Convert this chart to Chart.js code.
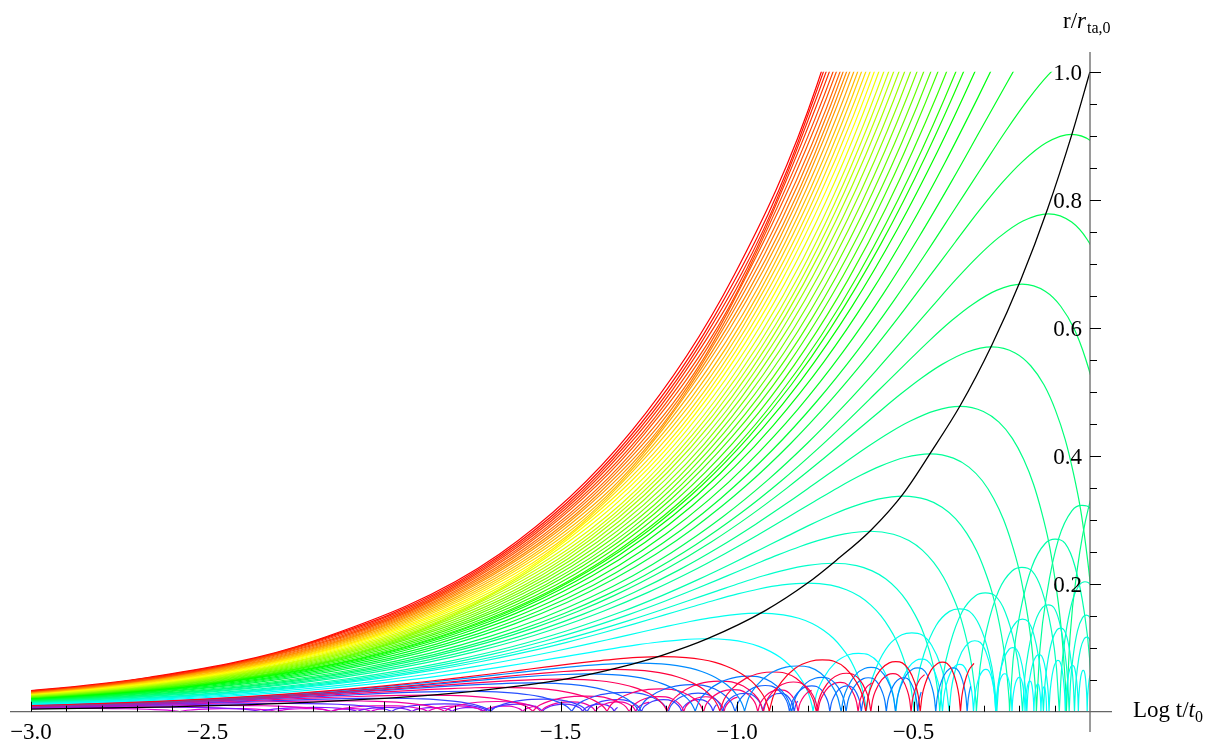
<!DOCTYPE html>
<html>
<head>
<meta charset="utf-8">
<script src="https://cdn.jsdelivr.net/npm/chart.js@4.4.1/dist/chart.umd.min.js"></script>
<style>
  html, body { margin: 0; padding: 0; background: #fff; }
</style>
</head>
<body>
<canvas id="c" width="1219" height="748"></canvas>
<script>
// one shell in the (log t, r) plane, read off the shells that are drawn whole:
// log t measured from turnaround, r as a fraction of the turnaround radius
const SHAPE_DX = [-5.2, -4.74, -4.276, -3.747, -3.373, -3.083, -2.847, -2.473, -2.184, -1.948, -1.751, -1.58, -1.43,
  -1.297, -1.177, -1.069, -0.924, -0.796, -0.682, -0.58, -0.488, -0.405, -0.329, -0.261, -0.198, -0.141, -0.072, 0,
  0.066, 0.11, 0.148, 0.18, 0.208, 0.231, 0.251, 0.266, 0.278, 0.287, 0.293, 0.297, 0.2997, 0.3008, 0.301];
const SHAPE_R = [0.0006, 0.00122, 0.0025, 0.0056, 0.00997, 0.0155, 0.0223, 0.0395, 0.0612, 0.0873, 0.1176, 0.1517, 0.1892,
  0.2298, 0.2732, 0.3188, 0.3905, 0.4646, 0.5396, 0.6136, 0.6851, 0.7524, 0.8141, 0.8687, 0.9155, 0.9521, 0.9855, 1,
  0.9834, 0.9484, 0.8955, 0.8268, 0.745, 0.6537, 0.556, 0.456, 0.358, 0.2657, 0.1827, 0.1122, 0.0573, 0.0199, 0];

// shells still expanding: log t where each leaves the frame (r = 1), and the radius it would turn around at
const RISE_END = [-0.760, -0.751, -0.743, -0.735, -0.726, -0.718, -0.708, -0.699, -0.689, -0.680, -0.669, -0.658,
  -0.647, -0.635, -0.623, -0.611, -0.598, -0.584, -0.570, -0.556, -0.541, -0.525, -0.508, -0.490, -0.471, -0.451,
  -0.430, -0.406, -0.380, -0.358, -0.326, -0.281, -0.217, -0.108];
const RISE_RTA = [44, 40, 37, 34, 31, 28, 26, 24, 22, 20, 18, 16.5, 15, 13.5, 12, 11, 9.9, 8.8, 7.8, 6.9, 6.1, 5.4,
  4.8, 4.2, 3.7, 3.25, 2.83, 2.47, 2.15, 1.87, 1.62, 1.40, 1.21, 1.045];

// shells seen turning around (green to cyan): turnaround log t and radius
const TURN_X = [-0.052, -0.118, -0.193, -0.278, -0.368, -0.453, -0.529, -0.623, -0.727, -0.80, -0.935, -1.086];
const TURN_R = [0.902, 0.778, 0.668, 0.57, 0.477, 0.403, 0.337, 0.282, 0.232, 0.201, 0.154, 0.114];
// their bounces: start of each bounce (log t after turnaround) and its height (fraction of turnaround radius)
const TURN_BOUNCE_AT = [0.301, 0.536, 0.668, 0.756, 0.819, 0.865, 0.902, 0.927, 0.947, 0.963];
const TURN_BOUNCE_H = [0.8, 0.72, 0.65, 0.58, 0.52, 0.47, 0.42, 0.38, 0.34];

// inner shells along the axis (red / blue tracks)
const INNER_X = [-1.21, -1.28, -1.35, -1.42, -1.50, -1.58, -1.67, -1.77, -1.88, -2.0, -2.13, -2.28, -2.45, -2.65, -2.88];
const INNER_R = [0.086, 0.076, 0.066, 0.059, 0.051, 0.045, 0.038, 0.032, 0.026, 0.021, 0.017, 0.013, 0.0098, 0.0072, 0.0052];
const INNER_END = [-0.32, -0.33, -0.463, -0.47, -0.61, -0.63, -0.78, -0.82, -0.99, -1.05, -1.24, -1.33, -1.56, -1.70, -1.99];
const INNER_COLOR = ['rgb(255,0,30)', 'rgb(0,140,255)', 'rgb(255,0,60)', 'rgb(0,120,255)', 'rgb(255,0,90)',
  'rgb(20,100,255)', 'rgb(255,0,110)', 'rgb(40,80,255)', 'rgb(250,0,130)', 'rgb(60,60,255)', 'rgb(240,0,160)',
  'rgb(90,40,255)', 'rgb(230,0,190)', 'rgb(130,20,255)', 'rgb(220,0,220)'];
const INNER_BOUNCE_AT = [0.301, 0.575, 0.729, 0.843, 0.932, 1.007, 1.07, 1.126];
const INNER_BOUNCE_H = [0.94, 0.91, 0.9, 0.9, 0.9, 0.9, 0.9];

// a single bounce: fraction of its width in log t, fraction of its height
const ARC_U = [0, 0.045, 0.13, 0.27, 0.43, 0.55, 0.67, 0.79, 0.9, 0.965, 1];
const ARC_V = [0, 0.31, 0.58, 0.84, 0.975, 1, 0.975, 0.84, 0.58, 0.31, 0];

// black curve: turnaround radius against turnaround time
const LOCUS_X = [-3.0, -2.6, -2.2, -1.84, -1.65, -1.46, -1.33, -1.21, -1.08, -0.92, -0.80, -0.72, -0.62, -0.53,
  -0.45, -0.368, -0.278, -0.196, -0.12, -0.052, 0];
const LOCUS_R = [0.004, 0.0077, 0.015, 0.027, 0.038, 0.0537, 0.0697, 0.0886, 0.115, 0.158, 0.201, 0.236, 0.284, 0.340,
  0.406, 0.478, 0.573, 0.675, 0.786, 0.901, 1.0];

const X_TICKS = [-3, -2.5, -2, -1.5, -1, -0.5];
const X_LABELS = ['\u22123.0', '\u22122.5', '\u22122.0', '\u22121.5', '\u22121.0', '\u22120.5'];
const Y_TICKS = [0.2, 0.4, 0.6, 0.8, 1.0];
const Y_LABELS = ['0.2', '0.4', '0.6', '0.8', '1.0'];

// where the rising branch of the shape reaches a given fraction (log-linear between rows)
function riseOffset(f) {
  for (let k = 0; k < SHAPE_DX.length - 1; k++) {
    if (SHAPE_R[k + 1] >= f) {
      const a = Math.log(SHAPE_R[k]), b = Math.log(SHAPE_R[k + 1]);
      return SHAPE_DX[k] + (SHAPE_DX[k + 1] - SHAPE_DX[k]) * (Math.log(f) - a) / (b - a);
    }
  }
  return 0;
}

function shellPoints(xta, rta, bounceAt, bounceH, end) {
  const pts = SHAPE_DX.map((d, k) => ({x: xta + d, y: rta * SHAPE_R[k]}));
  for (let b = 0; b < bounceH.length && b + 1 < bounceAt.length; b++) {
    const x0 = xta + bounceAt[b], x1 = xta + bounceAt[b + 1];
    if (x0 > end) break;
    pts.push({x: x0, y: null});
    for (let k = 0; k < ARC_U.length; k++) {
      const px = x0 + (x1 - x0) * ARC_U[k];
      if (px > end) break;
      pts.push({x: px, y: rta * bounceH[b] * ARC_V[k]});
    }
  }
  return pts;
}

const hue = i => 'hsl(' + (i * 0.5 / 45 * 360).toFixed(1) + ',100%,50%)';
const line = (data, color, w) => ({data: data, borderColor: color, borderWidth: w || 1.2, pointRadius: 0,
  fill: false, cubicInterpolationMode: 'monotone'});

const datasets = [];
datasets.push(line(LOCUS_X.map((v, k) => ({x: v, y: LOCUS_R[k]})), '#000', 1.3));
INNER_X.forEach((v, k) => {
  datasets.push(line(shellPoints(v, INNER_R[k], INNER_BOUNCE_AT, INNER_BOUNCE_H, INNER_END[k]), INNER_COLOR[k]));
});
for (let k = TURN_X.length - 1; k >= 0; k--) {
  datasets.push(line(shellPoints(TURN_X[k], TURN_R[k], TURN_BOUNCE_AT, TURN_BOUNCE_H, 0.1), hue(34 + k)));
}
for (let k = RISE_END.length - 1; k >= 0; k--) {
  const xta = RISE_END[k] - riseOffset(1 / RISE_RTA[k]);
  datasets.push(line(shellPoints(xta, RISE_RTA[k], [], [], 0.1), hue(k)));
}

const frame = {
  id: 'frame',
  beforeDatasetsDraw(chart) {
    const {ctx, scales: {x, y}, chartArea: a} = chart;
    const l = x.getPixelForValue(-3), r = x.getPixelForValue(0), t = y.getPixelForValue(1);
    ctx.save();
    ctx.beginPath();
    ctx.rect(l, t, r - l, a.bottom - t);
    ctx.clip();
  },
  afterDatasetsDraw(chart) {
    chart.ctx.restore();
  },
  afterDraw(chart) {
    const {ctx, scales: {x, y}, chartArea: a} = chart;
    const x0 = x.getPixelForValue(0), y0 = y.getPixelForValue(0);
    ctx.save();
    ctx.strokeStyle = '#666';
    ctx.lineWidth = 1.3;
    ctx.beginPath();
    ctx.moveTo(a.left, y0); ctx.lineTo(a.right, y0);
    ctx.moveTo(x0, a.top); ctx.lineTo(x0, a.bottom);
    ctx.stroke();

    ctx.strokeStyle = '#000';
    ctx.lineWidth = 1;
    ctx.beginPath();
    for (let v = -3; v < -0.05; v += 0.1) {
      const px = Math.round(x.getPixelForValue(v)) + 0.5;
      const major = X_TICKS.some(m => Math.abs(m - v) < 1e-6);
      ctx.moveTo(px, y0); ctx.lineTo(px, y0 - (major ? 10 : 6));
    }
    for (let v = 0.05; v < 1.01; v += 0.05) {
      const py = Math.round(y.getPixelForValue(v)) + 0.5;
      const major = Y_TICKS.some(m => Math.abs(m - v) < 1e-6);
      ctx.moveTo(x0, py); ctx.lineTo(x0 + (major ? 11 : 7), py);
    }
    ctx.stroke();

    ctx.fillStyle = '#000';
    ctx.font = '23px "Liberation Serif"';
    ctx.textAlign = 'center';
    ctx.textBaseline = 'alphabetic';
    X_TICKS.forEach((v, k) => ctx.fillText(X_LABELS[k], x.getPixelForValue(v), y0 + 27));
    ctx.textAlign = 'right';
    Y_TICKS.forEach((v, k) => ctx.fillText(Y_LABELS[k], x0 - 8, y.getPixelForValue(v) + 8));

    // axis labels
    ctx.textAlign = 'left';
    let cx = 1133;
    ctx.font = '23px "Liberation Serif"';
    ctx.fillText('Log t/', cx, y0 + 5); cx += ctx.measureText('Log t/').width;
    ctx.font = 'italic 23px "Liberation Serif"';
    ctx.fillText('t', cx, y0 + 5); cx += ctx.measureText('t').width;
    ctx.font = '16px "Liberation Serif"';
    ctx.fillText('0', cx, y0 + 10);

    cx = 1063;
    ctx.font = '23px "Liberation Serif"';
    ctx.fillText('r/', cx, 28); cx += ctx.measureText('r/').width;
    ctx.font = 'italic 23px "Liberation Serif"';
    ctx.fillText('r', cx, 28); cx += ctx.measureText('r').width + 1;
    ctx.font = '16px "Liberation Serif"';
    ctx.fillText('ta,0', cx, 33);
    ctx.restore();
  }
};

new Chart(document.getElementById('c'), {
  type: 'line',
  data: {datasets: datasets},
  options: {
    responsive: false,
    animation: false,
    devicePixelRatio: 1,
    events: [],
    layout: {padding: {left: 10, right: 107, top: 52, bottom: 16}},
    plugins: {legend: {display: false}, tooltip: {enabled: false}},
    scales: {
      x: {type: 'linear', min: -3.0595, max: 0.0623, display: false},
      y: {type: 'linear', min: -0.0317, max: 1.0308, display: false}
    }
  },
  plugins: [frame]
});
</script>
</body>
</html>
